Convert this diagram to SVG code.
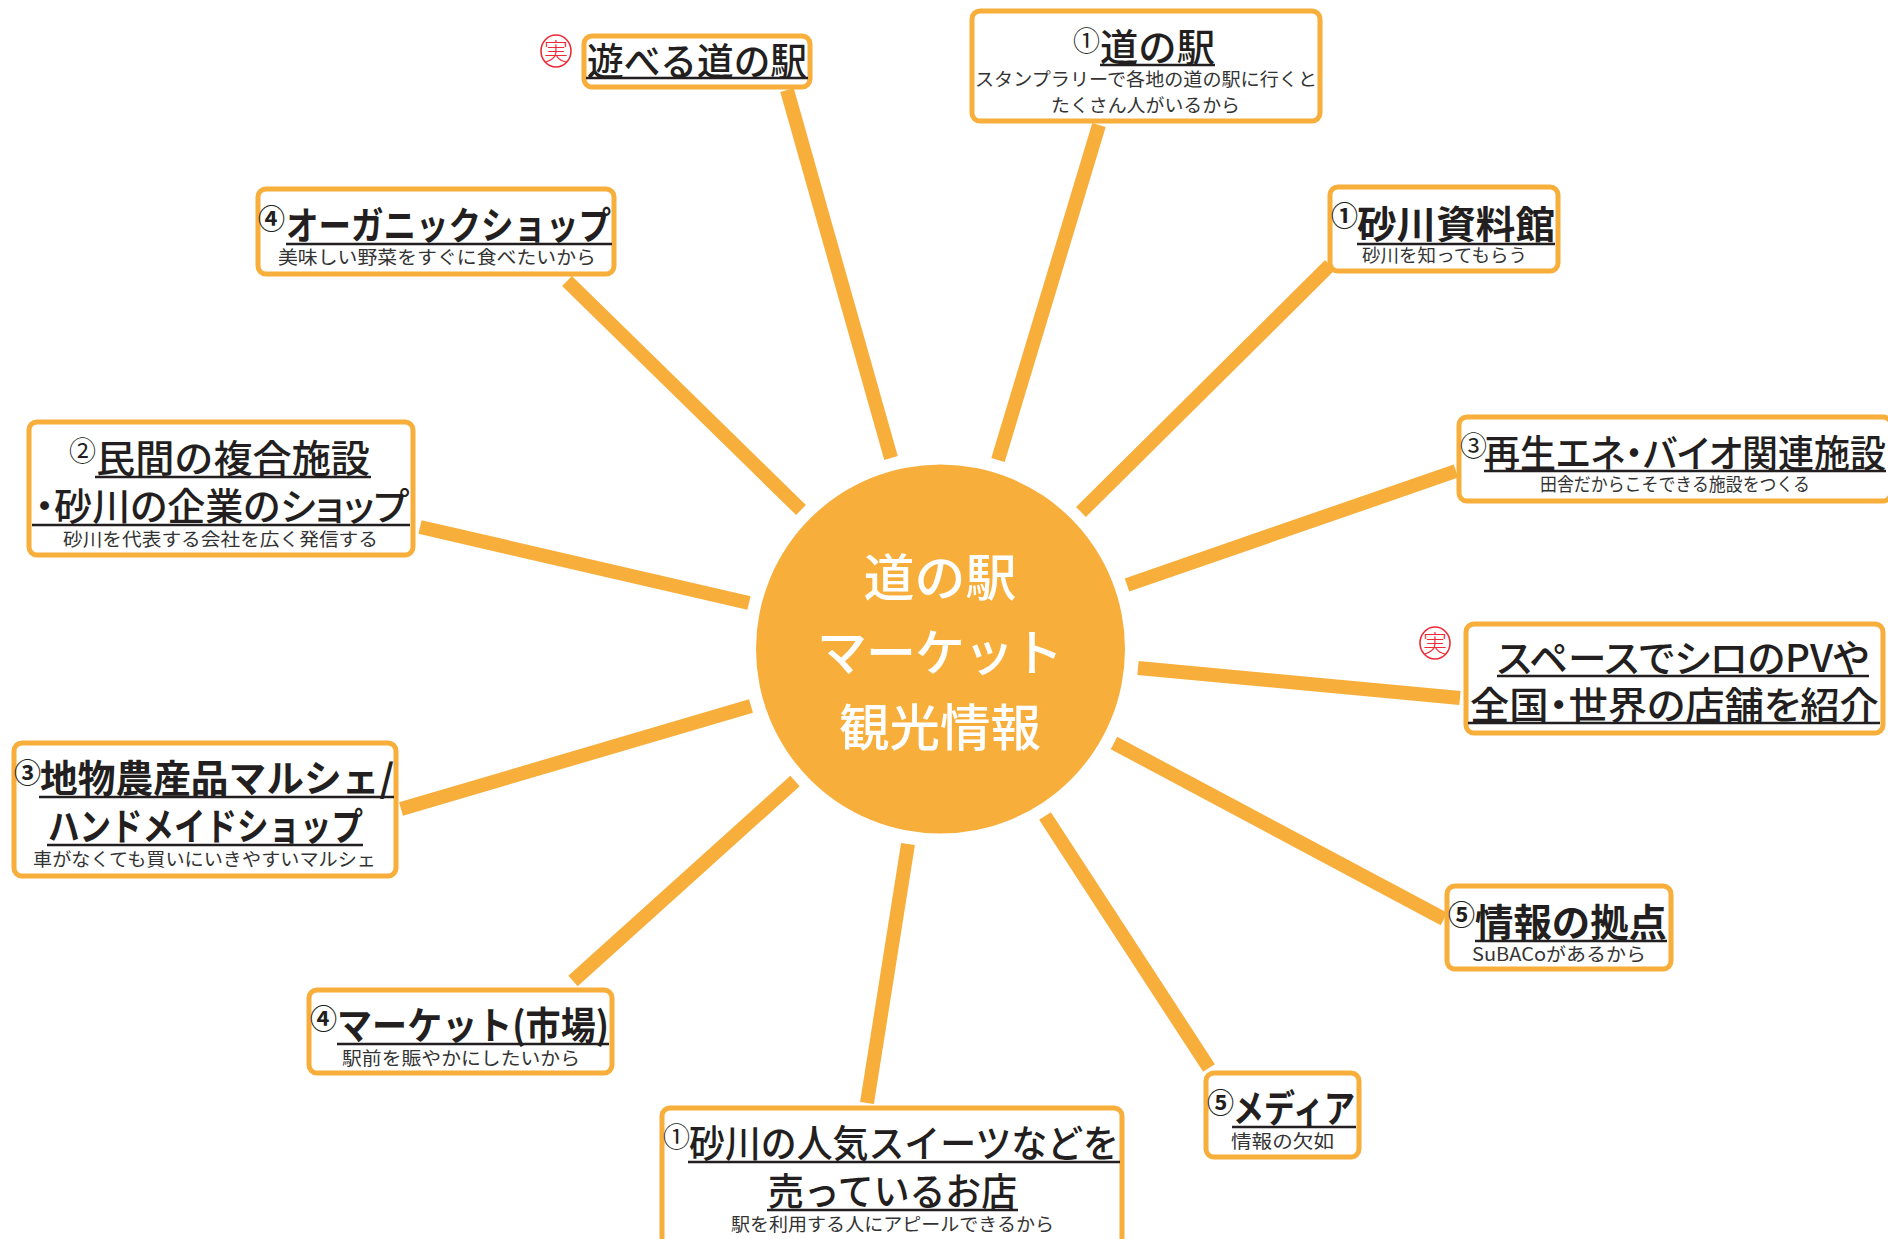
<svg xmlns="http://www.w3.org/2000/svg" width="1888" height="1239" viewBox="0 0 1888 1239">
<style>
text{font-family:"Noto Sans CJK JP","Noto Sans",sans-serif;fill:#231f20}
.b{fill:#fff;stroke:#f8ae3b;stroke-width:5}
.t{font-size:38px;font-weight:500}
.h{font-size:38px;font-weight:700}
.p{font-feature-settings:"palt"}
.s{font-size:18.500px;font-weight:400;fill:#333}
.n{font-size:27px;font-weight:400}
.nb{font-size:27px;font-weight:700}
.u{stroke:#231f20;stroke-width:2.500;fill:none}
.c{stroke:#f8ae3b;stroke-width:14;fill:none}
.m{font-size:50px;font-weight:500;fill:#fff;text-anchor:middle}
.st{font-size:24px;fill:#ee2a36;font-weight:300;text-anchor:middle}
.se{fill:none;stroke:#ee2a36;stroke-width:1.600}
</style>
<g id="connectors">
<path class="c" d="M787 90L891 458"/>
<path class="c" d="M1099 125L998 460"/>
<path class="c" d="M1330 265L1081 512"/>
<path class="c" d="M1456 471L1127 585"/>
<path class="c" d="M1460 698L1138 668"/>
<path class="c" d="M1444 919L1114 743"/>
<path class="c" d="M1209 1068L1045 816"/>
<path class="c" d="M867 1103L908 844"/>
<path class="c" d="M573 981L795 781"/>
<path class="c" d="M401 809L751 706"/>
<path class="c" d="M420 527L749 603"/>
<path class="c" d="M567 281L801 510"/>
</g>
<g id="center">
<circle cx="940.500" cy="649" r="184.500" fill="#f8ae3b"/>
<text class="m" x="940" y="596" textLength="153" lengthAdjust="spacingAndGlyphs">道の駅</text>
<text class="m" x="940" y="671" textLength="246" lengthAdjust="spacing">マーケット</text>
<text class="m" x="940" y="746" textLength="202" lengthAdjust="spacingAndGlyphs">観光情報</text>
</g>
<g id="node-asobu">
<ellipse class="se" cx="556" cy="51" rx="15" ry="16"/><text class="st" x="556" y="60">実</text>
<rect class="b" x="584" y="36" width="226" height="51" rx="8"/>
<text class="t" x="587" y="75" textLength="220" lengthAdjust="spacingAndGlyphs">遊べる道の駅</text>
<path class="u" d="M586 78H808"/>
</g>
<g id="node-michinoeki">
<rect class="b" x="972" y="11" width="348" height="110" rx="8"/>
<text class="n" x="1073" y="51">①</text>
<text class="t" x="1100" y="61" textLength="115" lengthAdjust="spacingAndGlyphs">道の駅</text>
<path class="u" d="M1100 65H1215"/>
<text class="s" x="975" y="86" textLength="342" lengthAdjust="spacingAndGlyphs">スタンプラリーで各地の道の駅に行くと</text>
<text class="s" x="1051" y="112" textLength="189" lengthAdjust="spacingAndGlyphs">たくさん人がいるから</text>
</g>
<g id="node-shiryokan">
<rect class="b" x="1330" y="187" width="228" height="84" rx="8"/>
<text class="nb" x="1331" y="226">①</text>
<text class="h" x="1357" y="238" textLength="198" lengthAdjust="spacingAndGlyphs">砂川資料館</text>
<path class="u" d="M1357 244H1555"/>
<text class="s" x="1362" y="262" textLength="165" lengthAdjust="spacingAndGlyphs">砂川を知ってもらう</text>
</g>
<g id="node-saisei">
<rect class="b" x="1459" y="417" width="432" height="84" rx="8"/>
<text class="n" x="1460" y="456">③</text>
<text class="t p" x="1484" y="467" textLength="402" lengthAdjust="spacingAndGlyphs">再生エネ・バイオ関連施設</text>
<path class="u" d="M1484 471H1886"/>
<text class="s" x="1540" y="491" textLength="270" lengthAdjust="spacingAndGlyphs">田舎だからこそできる施設をつくる</text>
</g>
<g id="node-space">
<ellipse class="se" cx="1435" cy="643" rx="15" ry="16"/><text class="st" x="1435" y="652">実</text>
<rect class="b" x="1466" y="624" width="417" height="109" rx="8"/>
<text class="t p" x="1497" y="672" textLength="372" lengthAdjust="spacingAndGlyphs">スペースでシロのPVや</text>
<path class="u" d="M1497 676H1869"/>
<text class="t p" x="1470" y="719" textLength="409" lengthAdjust="spacingAndGlyphs">全国・世界の店舗を紹介</text>
<path class="u" d="M1468 723H1880"/>
</g>
<g id="node-joho">
<rect class="b" x="1447" y="886" width="224" height="83" rx="8"/>
<text class="nb" x="1448" y="925">⑤</text>
<text class="h" x="1475" y="936" textLength="192" lengthAdjust="spacingAndGlyphs">情報の拠点</text>
<path class="u" d="M1475 941H1667"/>
<text class="s" x="1472" y="961" textLength="174" lengthAdjust="spacingAndGlyphs">SuBACoがあるから</text>
</g>
<g id="node-media">
<rect class="b" x="1206" y="1073" width="153" height="84" rx="8"/>
<text class="nb" x="1207" y="1113">⑤</text>
<text class="h" x="1233" y="1122" textLength="122" lengthAdjust="spacingAndGlyphs">メディア</text>
<path class="u" d="M1232 1127H1356"/>
<text class="s" x="1231" y="1148" textLength="103" lengthAdjust="spacingAndGlyphs">情報の欠如</text>
</g>
<g id="node-sweets">
<rect class="b" x="662" y="1108" width="460" height="140" rx="8"/>
<text class="n" x="663" y="1147">①</text>
<text class="t" x="689" y="1157" textLength="430" lengthAdjust="spacingAndGlyphs">砂川の人気スイーツなどを</text>
<path class="u" d="M688 1162H1120"/>
<text class="t" x="768" y="1205" textLength="249" lengthAdjust="spacingAndGlyphs">売っているお店</text>
<path class="u" d="M767 1210H1018"/>
<text class="s" x="731" y="1231" textLength="323" lengthAdjust="spacingAndGlyphs">駅を利用する人にアピールできるから</text>
</g>
<g id="node-market">
<rect class="b" x="309" y="990" width="303" height="83" rx="8"/>
<text class="nb" x="310" y="1029">④</text>
<text class="h" x="337" y="1039" textLength="272" lengthAdjust="spacingAndGlyphs">マーケット(市場)</text>
<path class="u" d="M337 1044H609"/>
<text class="s" x="342" y="1065" textLength="238" lengthAdjust="spacingAndGlyphs">駅前を賑やかにしたいから</text>
</g>
<g id="node-marche">
<rect class="b" x="14" y="743" width="382" height="133" rx="8"/>
<text class="nb" x="14" y="783">③</text>
<text class="h" x="40" y="792" textLength="354" lengthAdjust="spacingAndGlyphs">地物農産品マルシェ/</text>
<path class="u" d="M39 797H394"/>
<text class="h" x="48" y="840" textLength="315" lengthAdjust="spacingAndGlyphs">ハンドメイドショップ</text>
<path class="u" d="M47 845H363"/>
<text class="s" x="33" y="866" textLength="343" lengthAdjust="spacingAndGlyphs">車がなくても買いにいきやすいマルシェ</text>
</g>
<g id="node-minkan">
<rect class="b" x="29" y="422" width="384" height="133" rx="8"/>
<text class="n" x="69" y="461">②</text>
<text class="t" x="96" y="472" textLength="274" lengthAdjust="spacingAndGlyphs">民間の複合施設</text>
<path class="u" d="M95 477H371"/>
<text class="t p" x="35" y="520" textLength="374" lengthAdjust="spacingAndGlyphs">・砂川の企業のショップ</text>
<path class="u" d="M32 525H410"/>
<text class="s" x="63" y="546" textLength="315" lengthAdjust="spacingAndGlyphs">砂川を代表する会社を広く発信する</text>
</g>
<g id="node-organic">
<rect class="b" x="258" y="189" width="356" height="85" rx="8"/>
<text class="nb" x="258" y="229">④</text>
<text class="h" x="286" y="239" textLength="325" lengthAdjust="spacingAndGlyphs">オーガニックショップ</text>
<path class="u" d="M286 244H612"/>
<text class="s" x="278" y="264" textLength="318" lengthAdjust="spacingAndGlyphs">美味しい野菜をすぐに食べたいから</text>
</g>
</svg>
